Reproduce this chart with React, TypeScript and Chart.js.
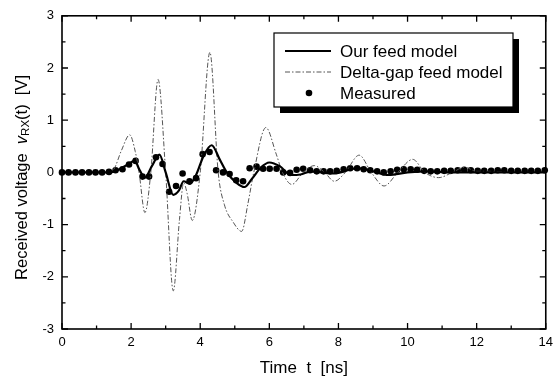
import React, { useEffect, useRef } from "react";
import { Chart, registerables } from "chart.js";

Chart.register(...registerables);

// ---- data ----
const ourFeedT = [0, 1.4, 1.6, 1.9, 2.1, 2.25, 2.4, 2.6, 2.82, 3.0, 3.22, 3.38, 3.52, 3.7, 3.88, 4.1, 4.33, 4.57, 4.77, 5.05, 5.28, 5.5, 5.75, 6.0, 6.3, 6.62, 6.9, 7.2, 7.5, 7.85, 8.55, 9.0, 9.45, 10.0, 10.6, 11.2, 14];
const ourFeedV = [0, 0, 0.04, 0.15, 0.22, 0.04, -0.1, 0.12, 0.34, 0.0, -0.43, -0.35, -0.17, -0.22, -0.05, 0.32, 0.52, 0.24, 0, -0.2, -0.28, -0.12, 0.09, 0.19, 0.12, -0.05, -0.04, 0.02, 0.0, -0.02, 0.08, 0.02, -0.05, 0, 0.02, 0, 0];

const deltaGapT = [0, 1.3, 1.5, 1.72, 1.96, 2.12, 2.23, 2.4, 2.57, 2.78, 3.0, 3.22, 3.4, 3.52, 3.62, 3.77, 4.0, 4.28, 4.52, 4.7, 4.95, 5.2, 5.38, 5.55, 5.9, 6.2, 6.38, 6.65, 6.98, 7.3, 7.6, 7.88, 8.2, 8.6, 8.95, 9.32, 9.72, 10.15, 10.5, 10.9, 11.3, 11.65, 12.0, 12.4, 13.0, 14];
const deltaGapV = [0, 0, 0.06, 0.42, 0.72, 0.4, 0, -0.77, 0, 1.78, 0, -2.27, -0.9, -0.2, -0.4, -0.92, 0, 2.3, 0, -0.62, -0.95, -1.13, -0.6, 0, 0.86, 0.35, 0, -0.23, 0, 0.13, 0, -0.17, 0, 0.33, 0, -0.26, 0, 0.25, 0, -0.1, 0, 0.1, 0.02, 0.02, 0, 0];

const measuredT = [0, 0.19, 0.39, 0.58, 0.78, 0.97, 1.16, 1.36, 1.55, 1.75, 1.94, 2.13, 2.33, 2.52, 2.72, 2.91, 3.1, 3.3, 3.49, 3.69, 3.88, 4.07, 4.27, 4.46, 4.66, 4.85, 5.04, 5.24, 5.43, 5.63, 5.82, 6.01, 6.21, 6.4, 6.6, 6.79, 6.98, 7.18, 7.37, 7.57, 7.76, 7.95, 8.15, 8.34, 8.54, 8.73, 8.92, 9.12, 9.31, 9.51, 9.7, 9.89, 10.09, 10.28, 10.48, 10.67, 10.86, 11.06, 11.25, 11.45, 11.64, 11.83, 12.03, 12.22, 12.42, 12.61, 12.8, 13.0, 13.19, 13.39, 13.58, 13.77, 13.97];
const measuredV = [0, 0, 0, 0, 0, 0, 0, 0.01, 0.04, 0.06, 0.15, 0.22, -0.08, -0.08, 0.29, 0.16, -0.37, -0.26, -0.02, -0.17, -0.11, 0.35, 0.39, 0.04, 0.0, -0.03, -0.15, -0.17, 0.08, 0.11, 0.07, 0.07, 0.07, 0.0, -0.01, 0.05, 0.07, 0.04, 0.02, 0.02, 0.02, 0.03, 0.06, 0.08, 0.08, 0.06, 0.04, 0.02, 0.0, 0.02, 0.05, 0.06, 0.06, 0.05, 0.03, 0.02, 0.02, 0.03, 0.03, 0.04, 0.05, 0.04, 0.03, 0.03, 0.03, 0.04, 0.04, 0.03, 0.03, 0.03, 0.03, 0.03, 0.04];

const seriesLabels = ["Our feed model", "Delta-gap feed model", "Measured"];
const xTitle = "Time  t  [ns]";
const yTitleParts = ["Received voltage  ", "v", "RX", "(t)  [V]"];
const xRange = [0, 14];
const yRange = [-3, 3];

const FONT = "'Liberation Sans', Arial, Helvetica, sans-serif";

const toPoints = (ts: number[], vs: number[]) => ts.map((t, i) => ({ x: t, y: vs[i] }));

const decorPlugin = {
  id: "decor",
  afterDraw(chart: any) {
    const { ctx, chartArea, scales } = chart;
    const { left, right, top, bottom } = chartArea;
    const xs = scales.x;
    const ys = scales.y;
    ctx.save();
    // frame
    ctx.strokeStyle = "#000";
    ctx.lineWidth = 1.6;
    ctx.strokeRect(left, top, right - left, bottom - top);
    // inward ticks
    ctx.lineWidth = 1.3;
    ctx.beginPath();
    for (let t = xRange[0]; t <= xRange[1]; t += 1) {
      const px = xs.getPixelForValue(t);
      const len = t % 2 === 0 ? 6 : 3.5;
      ctx.moveTo(px, bottom);
      ctx.lineTo(px, bottom - len);
      ctx.moveTo(px, top);
      ctx.lineTo(px, top + len);
    }
    for (let k = yRange[0] * 2; k <= yRange[1] * 2; k += 1) {
      const py = ys.getPixelForValue(k / 2);
      const len = k % 2 === 0 ? 6 : 3.5;
      ctx.moveTo(left, py);
      ctx.lineTo(left + len, py);
      ctx.moveTo(right, py);
      ctx.lineTo(right - len, py);
    }
    ctx.stroke();

    // x title
    ctx.fillStyle = "#000";
    ctx.font = `17px ${FONT}`;
    ctx.textAlign = "center";
    ctx.textBaseline = "middle";
    ctx.fillText(xTitle, (left + right) / 2, 368);

    // y title (rotated, with subscript)
    const fMain = `16.5px ${FONT}`;
    const fItal = `italic 16.5px ${FONT}`;
    const fSub = `11.5px ${FONT}`;
    const fonts = [fMain, fItal, fSub, fMain];
    const offs = [0, 0, 4, 0];
    const widths = yTitleParts.map((p, i) => {
      ctx.font = fonts[i];
      return ctx.measureText(p).width;
    });
    const total = widths.reduce((a, b) => a + b, 0);
    ctx.translate(22, 75 + total);
    ctx.rotate(-Math.PI / 2);
    ctx.textAlign = "left";
    ctx.textBaseline = "middle";
    let cx = 0;
    yTitleParts.forEach((p, i) => {
      ctx.font = fonts[i];
      ctx.fillText(p, cx, offs[i]);
      cx += widths[i];
    });
    ctx.restore();

    // legend
    ctx.save();
    const bx = 274, by = 33, bw = 239, bh = 74;
    ctx.fillStyle = "#000";
    ctx.fillRect(bx + 6, by + 6, bw, bh);
    ctx.fillStyle = "#fff";
    ctx.fillRect(bx, by, bw, bh);
    ctx.strokeStyle = "#000";
    ctx.lineWidth = 1.2;
    ctx.strokeRect(bx, by, bw, bh);
    const ds = chart.data.datasets;
    const rows = [51, 72, 93];
    ctx.font = `17px ${FONT}`;
    ctx.textAlign = "left";
    ctx.textBaseline = "middle";
    ds.forEach((d: any, i: number) => {
      const ry = rows[i];
      if (d.showLine === false) {
        ctx.fillStyle = d.pointBackgroundColor;
        ctx.beginPath();
        ctx.arc(309, ry, d.pointRadius, 0, Math.PI * 2);
        ctx.fill();
      } else {
        ctx.strokeStyle = d.borderColor;
        ctx.lineWidth = d.borderWidth;
        ctx.setLineDash(d.borderDash || []);
        ctx.beginPath();
        ctx.moveTo(285, ry);
        ctx.lineTo(331, ry);
        ctx.stroke();
        ctx.setLineDash([]);
      }
      ctx.fillStyle = "#000";
      ctx.fillText(d.label, 340, ry + 1);
    });
    ctx.restore();
  },
};

export default function App() {
  const canvasRef = useRef<HTMLCanvasElement | null>(null);

  useEffect(() => {
    const canvas = canvasRef.current;
    if (!canvas) return;
    const chart = new Chart(canvas, {
      type: "line",
      data: {
        datasets: [
          {
            label: seriesLabels[0],
            data: toPoints(ourFeedT, ourFeedV),
            borderColor: "#000",
            borderWidth: 2.2,
            pointRadius: 0,
            cubicInterpolationMode: "monotone",
            fill: false,
          },
          {
            label: seriesLabels[1],
            data: toPoints(deltaGapT, deltaGapV),
            borderColor: "#555",
            borderWidth: 1,
            borderDash: [5, 2, 1.5, 2],
            pointRadius: 0,
            cubicInterpolationMode: "monotone",
            fill: false,
          },
          {
            label: seriesLabels[2],
            data: toPoints(measuredT, measuredV),
            showLine: false,
            pointRadius: 3.3,
            pointBackgroundColor: "#000",
            pointBorderColor: "#000",
            pointBorderWidth: 0,
            clip: 6,
          } as any,
        ],
      },
      options: {
        animation: false,
        responsive: false,
        maintainAspectRatio: false,
        events: [],
        layout: { padding: { left: 0, top: 9, right: 13, bottom: 0 } },
        plugins: { legend: { display: false }, tooltip: { enabled: false } },
        scales: {
          x: {
            type: "linear",
            min: xRange[0],
            max: xRange[1],
            grid: { display: false, drawTicks: false },
            border: { display: false },
            ticks: {
              stepSize: 2,
              padding: 6,
              color: "#000",
              font: { family: FONT, size: 13 },
              maxRotation: 0,
            },
            afterFit: (s: any) => {
              s.height = 51;
            },
          },
          y: {
            type: "linear",
            min: yRange[0],
            max: yRange[1],
            grid: { display: false, drawTicks: false },
            border: { display: false },
            ticks: {
              stepSize: 1,
              padding: 8,
              color: "#000",
              font: { family: FONT, size: 13 },
            },
            afterFit: (s: any) => {
              s.width = 62;
            },
          },
        },
      },
      plugins: [decorPlugin],
    });
    return () => chart.destroy();
  }, []);

  return (
    <div style={{ position: "fixed", left: 0, top: 0, width: 559, height: 380, background: "#fff" }}>
      <canvas ref={canvasRef} width={559} height={380} style={{ width: 559, height: 380, display: "block" }} />
    </div>
  );
}
